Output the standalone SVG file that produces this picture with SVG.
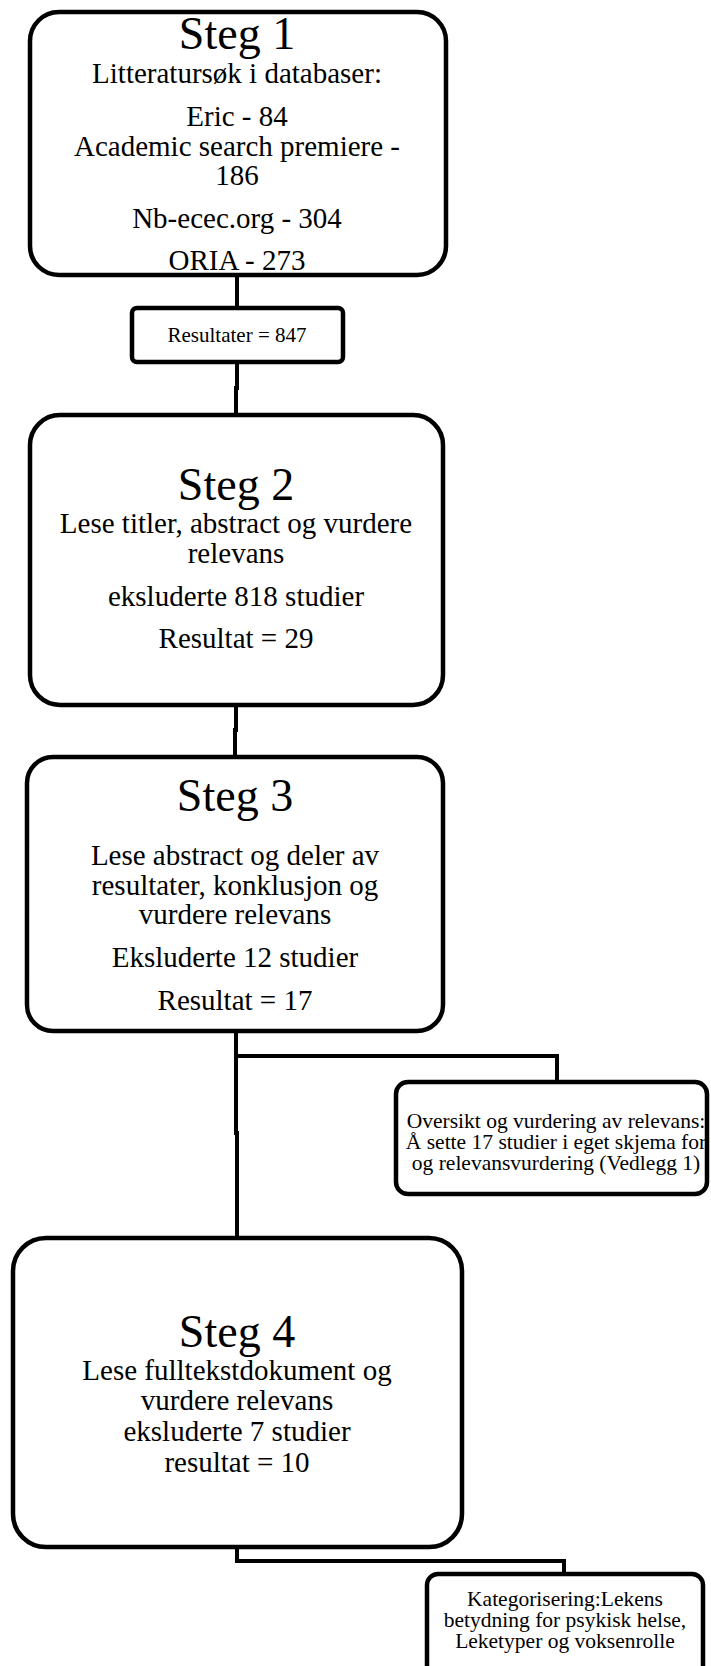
<svg xmlns="http://www.w3.org/2000/svg" width="711" height="1666" viewBox="0 0 711 1666">
<style>
.box{fill:#fff;stroke:#000;stroke-width:4.5}
.line{fill:none;stroke:#000;stroke-width:4;stroke-linejoin:miter}
text{font-family:"Liberation Serif","Times New Roman",serif;fill:#000;text-anchor:middle}
.t{font-size:46px}
.b{font-size:29px}
.s{font-size:21.5px}
</style>
<rect width="711" height="1666" fill="#fff"/>
<g id="connectors">
<path class="line" d="M237 275 V308"/>
<path class="line" d="M237 362 V388 H236 V415"/>
<path class="line" d="M236 705 V730 H235 V757"/>
<path class="line" d="M236 1031 V1133 H237 V1238"/>
<path class="line" d="M236 1056 H557 V1082"/>
<path class="line" d="M237 1547 V1561 H564 V1574"/>
</g>
<g id="steg1">
<rect class="box" x="30" y="12" width="416" height="263" rx="29"/>
<text class="t" x="237" y="49">Steg 1</text>
<text class="b" x="237" y="83">Litteratursøk i databaser:</text>
<text class="b" x="237" y="126">Eric - 84</text>
<text class="b" x="237" y="156">Academic search premiere -</text>
<text class="b" x="237" y="185">186</text>
<text class="b" x="237" y="228">Nb-ecec.org - 304</text>
<text class="b" x="237" y="270">ORIA - 273</text>
</g>
<g id="resultater">
<rect class="box" x="132" y="308" width="211" height="54" rx="5"/>
<text class="s" x="237" y="342" style="font-size:21px">Resultater = 847</text>
</g>
<g id="steg2">
<rect class="box" x="30" y="415" width="413" height="290" rx="30"/>
<text class="t" x="236" y="500">Steg 2</text>
<text class="b" x="236" y="533">Lese titler, abstract og vurdere</text>
<text class="b" x="236" y="563">relevans</text>
<text class="b" x="236" y="606">eksluderte 818 studier</text>
<text class="b" x="236" y="648">Resultat = 29</text>
</g>
<g id="steg3">
<rect class="box" x="27" y="757" width="416" height="274" rx="26"/>
<text class="t" x="235" y="811">Steg 3</text>
<text class="b" x="235" y="865">Lese abstract og deler av</text>
<text class="b" x="235" y="895">resultater, konklusjon og</text>
<text class="b" x="235" y="924">vurdere relevans</text>
<text class="b" x="235" y="967">Eksluderte 12 studier</text>
<text class="b" x="235" y="1010">Resultat = 17</text>
</g>
<g id="oversikt">
<rect class="box" x="396" y="1082" width="311" height="112" rx="12"/>
<text class="s" x="556" y="1128">Oversikt og vurdering av relevans:</text>
<text class="s" x="556" y="1149">Å sette 17 studier i eget skjema for</text>
<text class="s" x="556" y="1170">og relevansvurdering (Vedlegg 1)</text>
</g>
<g id="steg4">
<rect class="box" x="13" y="1238" width="449" height="309" rx="33"/>
<text class="t" x="237" y="1347">Steg 4</text>
<text class="b" x="237" y="1380">Lese fulltekstdokument og</text>
<text class="b" x="237" y="1410">vurdere relevans</text>
<text class="b" x="237" y="1441">eksluderte 7 studier</text>
<text class="b" x="237" y="1472">resultat = 10</text>
</g>
<g id="kategorisering">
<rect class="box" x="427" y="1574" width="276" height="110" rx="11"/>
<text class="s" x="565" y="1606">Kategorisering:Lekens</text>
<text class="s" x="565" y="1627">betydning for psykisk helse,</text>
<text class="s" x="565" y="1648">Leketyper og voksenrolle</text>
</g>
</svg>
